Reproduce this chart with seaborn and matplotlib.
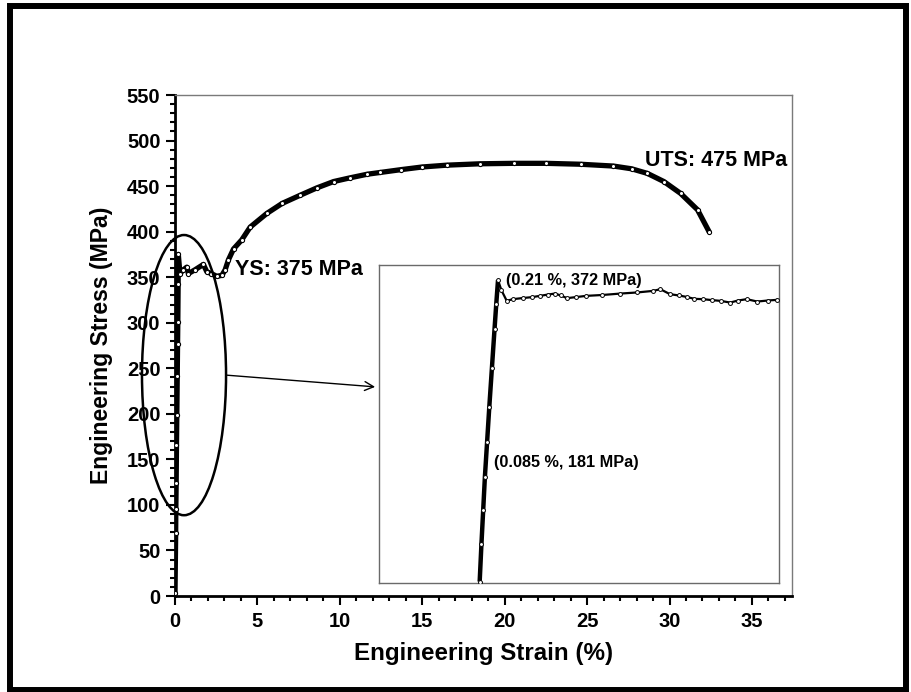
import matplotlib
matplotlib.use("Agg")
import matplotlib.pyplot as plt
from matplotlib.patches import Ellipse, Rectangle
import seaborn as sns
import pandas as pd

# Full tensile curve: engineering strain (%) vs engineering stress (MPa)
strain_main = [0.0, 0.04, 0.05, 0.07, 0.09, 0.11, 0.135, 0.155, 0.17, 0.19, 0.2,
               0.3, 0.5, 0.71, 0.81, 1.2, 1.72, 1.93, 2.2, 2.53, 2.84, 3.04, 3.24,
               3.55, 4.05, 4.56, 5.57, 6.5, 7.6, 8.6, 9.62, 10.6, 11.65, 12.46,
               13.68, 15.0, 16.5, 18.5, 20.57, 22.5, 24.6, 26.6, 27.7, 28.65,
               29.66, 30.67, 31.7, 32.4]
stress_main = [3, 69, 95, 124, 166, 199, 241, 277, 301, 343, 375,
               354, 358, 361, 354, 358, 364, 356, 354, 351, 352, 358, 369,
               381, 391, 405, 420, 431, 440, 448, 455, 459, 463, 465,
               468, 471, 473, 474.5, 475, 475, 474, 472, 469, 464,
               455, 442, 424, 400]

# Enlarged view of the elastic region and the yield point
strain_zoom = [0.0, 0.02, 0.04, 0.06, 0.085, 0.11, 0.14, 0.17, 0.19, 0.21,
               0.25, 0.31, 0.38, 0.5, 0.6, 0.69, 0.78, 0.86, 0.93, 1.0, 1.1,
               1.22, 1.4, 1.61, 1.8, 1.99, 2.07, 2.18, 2.28, 2.37, 2.46, 2.56,
               2.66, 2.76, 2.87, 2.96, 3.06, 3.18, 3.3, 3.41]
stress_zoom = [16, 60, 100, 140, 181, 222, 268, 314, 344, 372,
               360, 347.6, 349.6, 351, 352, 353.5, 355, 356.2, 354, 350.8, 352,
               353.5, 354.5, 356.2, 357.5, 359.4, 361.4, 355.5, 354, 352.3, 350,
               349.6, 348.5, 347.6, 345.6, 348, 349.6, 346.8, 348, 348.8]

x_ticks = [0, 5, 10, 15, 20, 25, 30, 35]
y_ticks = [0, 50, 100, 150, 200, 250, 300, 350, 400, 450, 500, 550]

ys_point = (0.2, 375)
uts_point = (20.57, 475)
zoom_labels = [(0.21, 372), (0.085, 181)]

sns.set_style("ticks")
plt.rcParams["font.family"] = ["Liberation Sans", "DejaVu Sans"]
plt.rcParams["font.weight"] = "bold"
plt.rcParams["axes.labelweight"] = "bold"
plt.rcParams["text.color"] = "black"
plt.rcParams["axes.labelcolor"] = "black"
plt.rcParams["xtick.color"] = "black"
plt.rcParams["ytick.color"] = "black"

fig = plt.figure(figsize=(9.12, 6.92), dpi=100)
ax = fig.add_axes([0.1919, 0.1387, 0.6765, 0.7240])

df_main = pd.DataFrame({"strain": strain_main, "stress": stress_main})
sns.lineplot(data=df_main, x="strain", y="stress", ax=ax, sort=False,
             estimator=None, color="black", lw=3.8, marker="o", markersize=3,
             markerfacecolor="white", markeredgecolor="black",
             markeredgewidth=0.8, zorder=3)

ax.set_xlim(0, 37.43)
ax.set_ylim(0, 550)
ax.set_xticks(x_ticks)
ax.set_yticks(y_ticks)
ax.xaxis.set_minor_locator(matplotlib.ticker.MultipleLocator(1))
ax.yaxis.set_minor_locator(matplotlib.ticker.MultipleLocator(10))
ax.tick_params(axis="both", which="major", direction="out", length=6.5,
               width=1.5, labelsize=14.5, colors="black")
ax.tick_params(axis="both", which="minor", direction="out", length=3.5,
               width=1.5, colors="black")
ax.tick_params(axis="x", pad=5)
ax.tick_params(axis="y", pad=4)
for lbl in ax.get_xticklabels() + ax.get_yticklabels():
    lbl.set_fontweight("bold")

for side in ("left", "bottom"):
    ax.spines[side].set_linewidth(2.0)
    ax.spines[side].set_color("black")
for side in ("top", "right"):
    ax.spines[side].set_linewidth(1.0)
    ax.spines[side].set_color("#7a7a7a")

ax.set_xlabel("Engineering Strain (%)", fontsize=17.4, fontweight="bold",
              labelpad=8, color="black")
ax.set_ylabel("Engineering Stress (MPa)", fontsize=16.6, fontweight="bold",
              labelpad=10, color="black")

ax.text(3.64, 358, f"YS: {ys_point[1]} MPa", fontsize=15.5, fontweight="bold",
        ha="left", va="center", color="black")
ax.text(28.5, 478.6, f"UTS: {uts_point[1]} MPa", fontsize=15.5,
        fontweight="bold", ha="left", va="center", color="black")

ring = Ellipse((0.546, 242.5), width=5.1, height=307.6, fill=False,
               edgecolor="black", lw=1.8, clip_on=False, zorder=4)
ax.add_patch(ring)
ax.annotate("", xy=(12.14, 229.6), xytext=(3.1, 242.5),
            arrowprops=dict(arrowstyle="->", lw=1.0, color="black",
                            mutation_scale=16, shrinkA=0, shrinkB=0),
            zorder=4)

# Inset with the yield point enlarged
axin = fig.add_axes([0.4161, 0.1571, 0.4384, 0.4600])
df_zoom = pd.DataFrame({"strain": strain_zoom, "stress": stress_zoom})
axin.plot(strain_zoom[:10], stress_zoom[:10], color="black", lw=3.2,
          solid_capstyle="butt", zorder=2)
sns.lineplot(data=df_zoom, x="strain", y="stress", ax=axin, sort=False,
             estimator=None, color="black", lw=1.6, marker="o", markersize=2.8,
             markerfacecolor="white", markeredgecolor="black",
             markeredgewidth=0.7, zorder=3)
axin.set_xlim(-1.148, 3.433)
axin.set_ylim(14, 390)
axin.set_xticks([])
axin.set_yticks([])
axin.set_xlabel("")
axin.set_ylabel("")
for side in axin.spines.values():
    side.set_linewidth(1.0)
    side.set_color("#6a6a6a")

axin.annotate(f"({zoom_labels[0][0]} %, {zoom_labels[0][1]} MPa)",
              xy=zoom_labels[0], xytext=(6, 0), textcoords="offset points",
              fontsize=11.7, fontweight="bold", ha="left", va="center",
              color="black")
axin.annotate(f"({zoom_labels[1][0]} %, {zoom_labels[1][1]} MPa)",
              xy=zoom_labels[1], xytext=(4.8, -14.5), textcoords="offset points",
              fontsize=11.7, fontweight="bold", ha="left", va="center",
              color="black")

# Frame around the whole figure
fig.patches.append(Rectangle((0.0106, 0.0036), 0.9828, 0.9874,
                             transform=fig.transFigure, fill=False,
                             edgecolor="black", lw=4.3, zorder=10))

fig.savefig("out.png", dpi=100)
